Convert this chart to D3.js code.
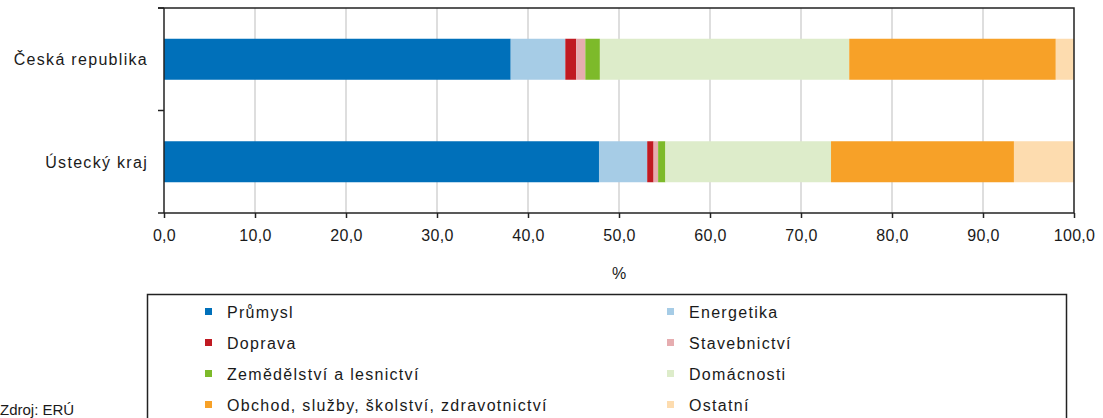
<!DOCTYPE html>
<html>
<head>
<meta charset="utf-8">
<script src="https://cdn.jsdelivr.net/npm/d3@7"></script>
<style>
  body { margin: 0; background: #fff; }
  text { font-family: "Liberation Sans", Arial, sans-serif; fill: #1a1a1a; }
</style>
</head>
<body>
<div class="chart"></div>
<script>
// regions (top to bottom)
var regions = ["Česká republika", "Ústecký kraj"];
// sectors, in stacking order
var sectors = ["Průmysl", "Energetika", "Doprava", "Stavebnictví",
  "Zemědělství a lesnictví", "Domácnosti",
  "Obchod, služby, školství, zdravotnictví", "Ostatní"];
var colors = ["#0070ba", "#a6cce6", "#c01a22", "#e6adb0",
  "#7dba2a", "#ddecca", "#f7a128", "#fddcaf"];
// share in % per region, same order as sectors
var cesko = [38.1, 6.0, 1.2, 1.0, 1.6, 27.4, 22.7, 2.0];
var ustecky = [47.8, 5.3, 0.7, 0.5, 0.8, 18.2, 20.1, 6.6];
var xTicks = [0, 10, 20, 30, 40, 50, 60, 70, 80, 90, 100];

var values = { width: 1103, height: 418, left: 164, right: 1074, top: 8, bottom: 213 };

var rows = [cesko, ustecky].map(function (v, i) {
  var o = { region: regions[i] };
  sectors.forEach(function (s, j) { o[s] = v[j]; });
  return o;
});
var stacked = d3.stack().keys(sectors)(rows);

var x = d3.scaleLinear().domain([0, 100]).range([values.left, values.right]);
var y = d3.scaleBand().domain(regions).range([values.top, values.bottom]).paddingInner(0.6).paddingOuter(0.3);

var svg = d3.select('.chart').append('svg')
  .attr('width', values.width)
  .attr('height', values.height);

// vertical grid
svg.append('g').selectAll('line')
  .data(xTicks.slice(1, -1))
  .enter().append('line')
  .attr('x1', d => x(d)).attr('x2', d => x(d))
  .attr('y1', values.top).attr('y2', values.bottom)
  .attr('stroke', '#c8c8c8').attr('stroke-width', 1.2);

// bars
svg.append('g').selectAll('g')
  .data(stacked)
  .enter().append('g')
  .attr('fill', (d, i) => colors[i])
  .selectAll('rect')
  .data(d => d)
  .enter().append('rect')
  .attr('x', d => x(d[0]))
  .attr('width', d => x(d[1]) - x(d[0]))
  .attr('y', d => y(d.data.region))
  .attr('height', y.bandwidth());

// frame: top and right
svg.append('path')
  .attr('d', 'M' + (values.left - 6) + ',' + values.top + 'H' + values.right + 'V' + values.bottom)
  .attr('fill', 'none').attr('stroke', '#222').attr('stroke-width', 1.5);

// x axis
var xAxis = d3.axisBottom(x).tickValues(xTicks).tickSize(5).tickPadding(12)
  .tickFormat(d => d3.format('.1f')(d).replace('.', ','));
var gx = svg.append('g')
  .attr('transform', 'translate(0,' + values.bottom + ')')
  .call(xAxis);
gx.select('.domain').attr('d', 'M' + (values.left - 6) + ',0H' + values.right)
  .attr('stroke', '#222').attr('stroke-width', 1.5);
gx.selectAll('.tick line').attr('stroke', '#222').attr('stroke-width', 1.5);
gx.selectAll('.tick text').style('font-size', '16px').attr('fill', '#1a1a1a')
  .style('letter-spacing', '0.3px')
  .style('font-family', '"Liberation Sans", Arial, sans-serif');

// y axis (category boundary ticks)
svg.append('line')
  .attr('x1', values.left).attr('x2', values.left)
  .attr('y1', values.top).attr('y2', values.bottom)
  .attr('stroke', '#222').attr('stroke-width', 1.5);
svg.append('g').selectAll('line')
  .data([values.top, (values.top + values.bottom) / 2])
  .enter().append('line')
  .attr('x1', values.left - 6).attr('x2', values.left)
  .attr('y1', d => d).attr('y2', d => d)
  .attr('stroke', '#222').attr('stroke-width', 1.5);

svg.append('g').selectAll('text')
  .data(regions)
  .enter().append('text')
  .attr('x', values.left - 16)
  .attr('y', d => y(d) + y.bandwidth() / 2 + 6)
  .attr('text-anchor', 'end')
  .style('font-size', '16px')
  .style('letter-spacing', '1.3px')
  .text(d => d);

// axis label
svg.append('text')
  .attr('x', (values.left + values.right) / 2)
  .attr('y', 279)
  .attr('text-anchor', 'middle')
  .style('font-size', '16px')
  .text('%');

// legend
svg.append('rect')
  .attr('x', 147.5).attr('y', 294.5)
  .attr('width', 919).attr('height', 140)
  .attr('fill', 'none').attr('stroke', '#222').attr('stroke-width', 1.5);

var legend = svg.append('g').selectAll('g')
  .data(sectors)
  .enter().append('g')
  .attr('transform', (d, i) => 'translate(' + (i % 2 ? 667 : 205) + ',' + (312 + Math.floor(i / 2) * 31) + ')');
legend.append('rect')
  .attr('x', 0).attr('y', -4).attr('width', 7).attr('height', 7)
  .attr('fill', (d, i) => colors[i]);
legend.append('text')
  .attr('x', 22).attr('y', 5.5)
  .style('font-size', '16px')
  .style('letter-spacing', '1.3px')
  .text(d => d);

// source
svg.append('text')
  .attr('x', 0).attr('y', 415)
  .style('font-size', '15px')
  .text('Zdroj: ERÚ');
</script>
</body>
</html>
